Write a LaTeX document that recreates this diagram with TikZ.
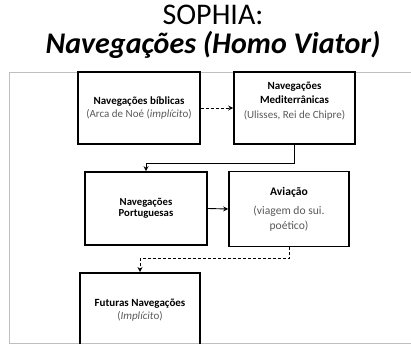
\documentclass[tikz,border=0pt]{standalone}
\usepackage{fontspec}
\setmainfont{Carlito}
\usetikzlibrary{arrows.meta}
\definecolor{framegray}{HTML}{BFBFBF}
\definecolor{subgray}{HTML}{595959}
\tikzset{
  box/.style={draw=black, line width=1.6pt, rectangle, align=center, inner sep=1pt,
    font=\fontsize{11}{13}\selectfont},
  conn/.style={line width=0.9pt, -{Stealth[length=5pt,width=5pt]}},
  dconn/.style={conn, dash pattern=on 3pt off 2pt},
  title/.style={inner sep=0pt, anchor=base, font=\fontsize{30}{30}\selectfont},
}
\newcommand{\sub}[1]{\textcolor{subgray}{#1}}
\begin{document}
\begin{tikzpicture}[x=1pt,y=-1pt]
\useasboundingbox (0,0) rectangle (411,345);
\node[title] (t1) at (213,25) {SOPHIA:};
\node[title, font=\fontsize{30}{30}\selectfont\bfseries\itshape] (t2) at (213,53) {Navegações (Homo Viator)};
% frame
\draw[framegray, line width=1pt] (415,72) -- (9.5,72) -- (9.5,343) -- (415,343);
% boxes
\node[box, minimum width=122pt, minimum height=72pt] (b1) at (139,108)
  {\textbf{Navegações bíblicas}\\\sub{(Arca de Noé (\textit{implícit}o)}};
\node[box, minimum width=121pt, minimum height=72pt, font=\fontsize{11}{14.5}\selectfont] (b2) at (294.5,108)
  {\textbf{Navegações}\\\textbf{Mediterrânicas}\\\sub{(Ulisses, Rei de Chipre)}\\[2pt]};
\node[box, minimum width=122pt, minimum height=73pt, font=\fontsize{10.7}{11}\selectfont] (b3) at (146,208.5)
  {\textbf{Navegações}\\\textbf{Portuguesas}};
\node[box, minimum width=120pt, minimum height=75pt, font=\fontsize{11.6}{15}\selectfont] (b4) at (289,209)
  {\textbf{Aviação}\\[4pt]\sub{(viagem do sui.}\\\sub{poético)}};
\begin{scope}
\clip (0,0) rectangle (411,343);
\node[box, minimum width=120pt, minimum height=90pt, text depth=0pt, anchor=north] (b5) at (140,272) {};
\end{scope}
\node[font=\fontsize{11}{12.5}\selectfont, align=center] (b5t) at (140,310)
  {\textbf{Futuras Navegações}\\\sub{(\textit{Implícit}o)}};
% connectors
\draw[dconn] (b1.east) -- (b2.west);
\draw[conn] (b2.south) -- ++(0,19) -| (b3.north);
\draw[conn] (b3.east) -- (b4.west);
\draw[dconn] (b4.south) -- ++(0,11.5) -| (b5.north);
\end{tikzpicture}
\end{document}
